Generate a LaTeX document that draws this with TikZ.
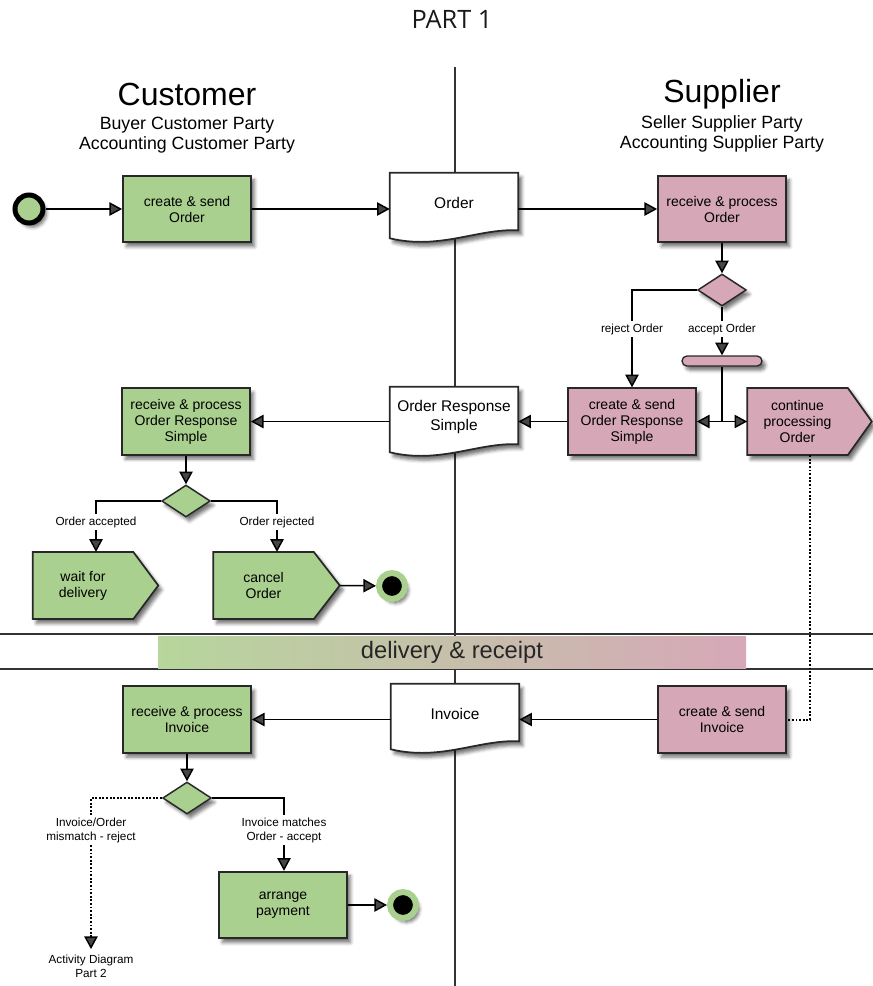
\documentclass[tikz,border=0pt]{standalone}
\usepackage{fontspec}
\setmainfont{Liberation Sans}
\newfontfamily\partfont{Open Sans}
\usetikzlibrary{arrows.meta,shapes.geometric,shadows.blur,calc}

\definecolor{actgreen}{RGB}{170,208,143}
\definecolor{actpink}{RGB}{214,167,182}
\definecolor{bandgreen}{RGB}{182,214,156}
\definecolor{bandpink}{RGB}{214,168,184}
\definecolor{edge}{RGB}{40,40,40}

\pgfdeclarelayer{shapes}
\pgfsetlayers{shapes,main}

\tikzset{
  softshadow/.style={blur shadow={shadow xshift=2.6pt, shadow yshift=-3.2pt,
      shadow blur radius=2.5pt, shadow opacity=55}},
  act/.style={draw=edge, line width=1.3pt, minimum width=96pt, minimum height=50pt,
      inner sep=2pt, align=center, font=\fontsize{10.5}{12}\selectfont, softshadow},
  gact/.style={act, fill=actgreen},
  pact/.style={act, fill=actpink},
  docbox/.style={minimum width=96pt, minimum height=45pt, inner sep=2pt, align=center,
      font=\fontsize{11.6}{14}\selectfont},
  docline/.style={draw=edge, line width=1.3pt, fill=white, softshadow},
  sigbox/.style={minimum width=75pt, minimum height=50pt, inner sep=2pt, align=center,
      font=\fontsize{10.5}{12}\selectfont},
  sigline/.style={draw=edge, line width=1.3pt, softshadow},
  decide/.style={diamond, draw=edge, line width=1.1pt, minimum width=36.5pt,
      minimum height=24pt, inner sep=0pt, softshadow},
  tip/.style={-{Triangle[length=9.5pt,width=10pt]}},
  flow/.style={line width=1.1pt, tip},
  plain/.style={line width=1.1pt},
  dots/.style={line width=1.5pt, dash pattern=on 1.4pt off 1.3pt},
  lab/.style={font=\fontsize{8.8}{10.5}\selectfont, align=center, inner sep=2pt},
  startnode/.style={circle, draw=black, line width=3.75pt, fill=actgreen,
      minimum size=21pt, inner sep=0pt, softshadow},
  endnode/.style={circle, draw=actgreen, fill=black, line width=4.5pt,
      minimum size=19.5pt, inner sep=0pt, softshadow},
  lane/.style={line width=1.2pt, draw=black!80},
}

\begin{document}
\begin{tikzpicture}[x=0.75pt, y=-0.75pt]
\useasboundingbox (0,0) rectangle (873,986);

% ---- title and swimlane headers
\node[font=\partfont\fontsize{19}{22}\selectfont, text=black!90] (title) at (452,19) {PART 1};
\node[font=\fontsize{24}{28}\selectfont] (cust) at (187,94) {Customer};
\node[font=\fontsize{13.3}{15}\selectfont, align=center] (custroles) at (187,135)
  {Buyer Customer Party\\Accounting Customer Party};
\node[font=\fontsize{24}{28}\selectfont] (supp) at (722,94) {Supplier};
\node[font=\fontsize{13.3}{15}\selectfont, align=center] (supproles) at (722,134)
  {Seller Supplier Party\\Accounting Supplier Party};

% ---- order exchange
\node[startnode] (start) at (29,209) {};
\node[gact] (cso) at (187,209) {create \& send\\Order};
\node[docbox] (ord) at (454,203) {Order};
\node[pact] (rpo) at (722,209) {receive \& process\\Order};
\node[decide, fill=actpink] (dia1) at (722,290) {};
\node[lab] (rejlab) at (632,329) {reject Order};
\node[lab] (acclab) at (722,329) {accept Order};
\node[draw=edge, fill=actpink, line width=1pt, rounded corners=3.7pt, minimum width=60pt,
      minimum height=7.5pt, inner sep=0pt, softshadow] (bar) at (722,361) {};

\node[pact] (csors) at (632,421.5) {create \& send\\Order Response\\Simple};
\node[sigbox] (cont) at (797.5,421.5) {continue\\processing\\Order};
\node[docbox] (orsdoc) at (454,417) {Order Response\\Simple};
\node[gact] (rpors) at (186,421.5) {receive \& process\\Order Response\\Simple};
\node[decide, fill=actgreen] (dia2) at (186,501) {};
\node[lab] (olab1) at (96,522) {Order accepted};
\node[lab] (olab2) at (277,522) {Order rejected};
\node[sigbox] (wait) at (83,585.5) {wait for\\delivery};
\node[sigbox] (cancel) at (263.5,585.5) {cancel\\Order};
\coordinate (canceltip) at ($(cancel.east)+(26,0)$);
\node[endnode] (end1) at (392,586) {};

% ---- band between the two exchanges
\node[minimum width=441pt, minimum height=24pt, inner sep=0pt,
      left color=bandgreen, right color=bandpink,
      font=\fontsize{17.8}{20}\selectfont, text=black!85] (band) at (452,652) {delivery \& receipt};

% ---- invoice exchange
\node[gact] (rpi) at (187,719.5) {receive \& process\\Invoice};
\node[docbox] (invdoc) at (455,714) {Invoice};
\node[pact] (csi) at (722,719.5) {create \& send\\Invoice};
\node[decide, fill=actgreen] (dia3) at (187,798) {};
\node[lab] (ilab1) at (91,830) {Invoice/Order\\mismatch - reject};
\node[lab] (ilab2) at (284,830) {Invoice matches\\Order - accept};
\node[lab] (part2) at (91,966) {Activity Diagram\\Part 2};
\node[gact] (pay) at (283,905) {arrange\\payment};
\node[endnode] (end2) at (403,905) {};

% ---- lane separators, document and signal outlines (behind the nodes)
\begin{pgfonlayer}{shapes}
  \draw[lane] (455,67) -- (455,986);
  \draw[lane] (0,634) -- (873,634);
  \draw[lane] (0,669) -- (873,669);
  \foreach \d in {ord,orsdoc,invdoc}{
    \path[docline] (\d.north west) -- (\d.north east) -- ([yshift=2.25pt]\d.south east)
      .. controls ($(\d.south)+(24,-5)$) and ($(\d.south)+(-14,17)$) ..
      ([yshift=-3.75pt]\d.south west) -- cycle;
  }
  \path[sigline, fill=actgreen] (wait.north west) -- (wait.north east)
    -- ([xshift=18.75pt]wait.east) -- (wait.south east) -- (wait.south west) -- cycle;
  \path[sigline, fill=actgreen] (cancel.north west) -- (cancel.north east)
    -- (canceltip) -- (cancel.south east) -- (cancel.south west) -- cycle;
  \path[sigline, fill=actpink] (cont.north west) -- (cont.north east)
    -- ([xshift=18pt]cont.east) -- (cont.south east) -- (cont.south west) -- cycle;
\end{pgfonlayer}

% ---- connectors: order
\draw[flow] (start) -- (cso.west);
\draw[flow] (cso.east) -- (cso.east -| ord.west);
\draw[flow] (cso.east -| ord.east) -- (rpo.west);
\draw[flow] (rpo.south) -- (dia1.north);
\draw[plain] (dia1.west) -| (rejlab.north);
\draw[flow] (rejlab.south) -- (csors.north -| rejlab.south);
\draw[plain] (dia1.south) -- (acclab.north);
\draw[flow] (acclab.south) -- (bar.north);
\coordinate (join) at (bar.south |- csors.east);
\draw[plain] (bar.south) -- (join);
\draw[flow] (join) -- (csors.east);
\draw[flow] (join) -- (cont.west);
\draw[flow] (csors.west) -- (csors.west -| orsdoc.east);
\draw[flow] (csors.west -| orsdoc.west) -- (rpors.east);
\draw[flow] (rpors.south) -- (dia2.north);
\draw[plain] (dia2.west) -| (olab1.north);
\draw[flow] (olab1.south) -- (olab1.south |- wait.north);
\draw[plain] (dia2.east) -| (olab2.north);
\draw[flow] (olab2.south) -- (olab2.south |- cancel.north);
\draw[flow] (canceltip) -- (end1);

% ---- connectors: invoice
\draw[dots] ([xshift=9.5pt]cont.south) |- (csi.east);
\draw[flow] (csi.west) -- (csi.west -| invdoc.east);
\draw[flow] (csi.west -| invdoc.west) -- (rpi.east);
\draw[flow] (rpi.south) -- (dia3.north);
\draw[dots] (dia3.west) -| (ilab1.north);
\draw[dots] (ilab1.south) -- ([yshift=12pt]part2.north);
\draw[line width=1.1pt, tip] ([yshift=12.5pt]part2.north) -- ([yshift=2pt]part2.north);
\draw[plain] (dia3.east) -| (ilab2.north);
\draw[flow] (ilab2.south) -- (ilab2.south |- pay.north);
\draw[flow] (pay.east) -- (end2);
\end{tikzpicture}
\end{document}
